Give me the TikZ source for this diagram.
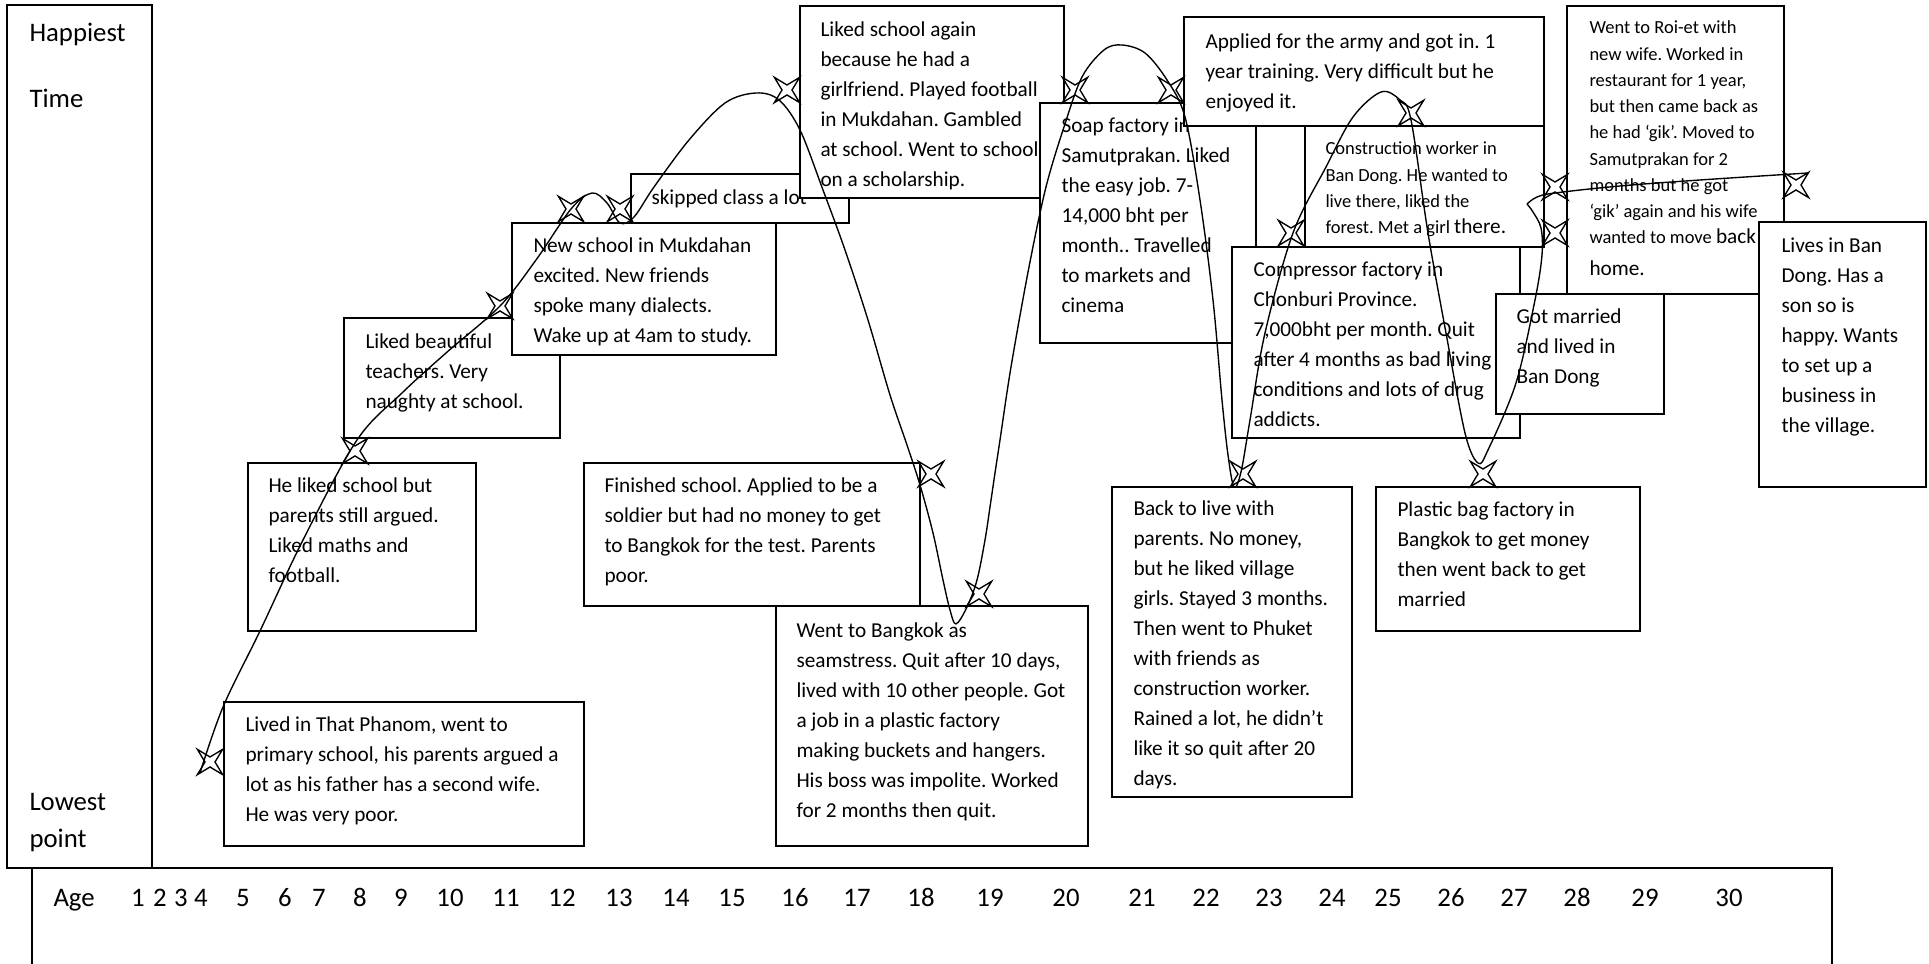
\documentclass[tikz,border=0pt]{standalone}
\usepackage{fontspec}
\setmainfont{Carlito}
\usetikzlibrary{fit,shapes.geometric}

% multi-line text block whose baseline is the first line
\newcommand\ml[1]{\begin{tabular}[t]{@{}l@{}}#1\end{tabular}}
\newcommand\bigw[1]{{\fontsize{8.5}{12}\selectfont #1}}
\frenchspacing

\tikzset{
  evbox/.style={draw, fill=white, line width=0.65pt, inner sep=0pt},
  btxt/.style={inner sep=0pt, anchor=base west, font=\fontsize{8.5}{12}\selectfont},
  stxt/.style={inner sep=0pt, anchor=base west, font=\fontsize{7.4}{10.5}\selectfont},
  axlab/.style={inner sep=0pt, anchor=base west, font=\fontsize{10.7}{13}\selectfont},
  agenum/.style={inner sep=0pt, anchor=base, font=\fontsize{10.7}{13}\selectfont},
  mstar/.style={star, star points=4, star point ratio=0.28, draw, fill=white,
    line width=0.55pt, inner sep=0pt, minimum size=4pt},
  lifeline/.style={line width=0.55pt, line join=round}
}

\begin{document}
\begin{tikzpicture}[x=0.4pt, y=-0.4pt]
\useasboundingbox (0,0) rectangle (1929,964);

% scale frame: happiness column and age strip
\node[evbox, fit={(7,5) (152,868)}] (scale) {};
\node[axlab] (happiest) at (29,42) {Happiest};
\node[axlab] (time) at (29,108) {Time};
\node[axlab] (lowest) at (29,811) {Lowest};
\node[axlab] (point) at (29,848) {point};
\coordinate (ageTL) at (32,868);
\coordinate (ageTR) at (1832,868);
\draw[line width=0.65pt] (32,990) -- (ageTL) -- (ageTR) -- (1832,990);
\node[axlab] (age) at (53,907) {Age};
\foreach \n/\x in {1/138,2/160,3/181,4/201,5/243,6/285,7/319,8/360,9/401,10/450,
  11/506,12/562,13/619,14/676,15/732,16/795,17/857,18/921,19/990,20/1066,
  21/1142,22/1206,23/1269,24/1332,25/1388,26/1451,27/1514,28/1577,29/1645,30/1729}
  \node[agenum] (age\n) at (\x,907) {\n};

% life events
\node[evbox, fit={(344,318) (560,438)}] (bC) {};
\node[btxt] (tC) at (365,349) {\ml{Liked beautiful\\teachers. Very\\naughty at school.}};

\node[evbox, fit={(512,223) (776,355)}] (bD) {};
\node[btxt] (tD) at (533,253) {\ml{New school in Mukdahan\\excited. New friends\\spoke many dialects.\\Wake up at 4am to study.}};

\node[evbox, fit={(631,174) (849,223)}] (bE) {};
\node[btxt] (tE) at (651,205) {skipped class a lot};

\node[evbox, fit={(800,6) (1064,198)}] (bF) {};
\node[btxt] (tF) at (820,37) {\ml{Liked school again\\because he had a\\girlfriend. Played football\\in Mukdahan. Gambled\\at school. Went to school\\on a scholarship.}};

\node[evbox, fit={(224,702) (584,846)}] (bA) {};
\node[btxt] (tA) at (245,732) {\ml{Lived in That Phanom, went to\\primary school, his parents argued a\\lot as his father has a second wife.\\He was very poor.}};

\node[evbox, fit={(248,463) (476,631)}] (bB) {};
\node[btxt] (tB) at (268,493) {\ml{He liked school but\\parents still argued.\\Liked maths and\\football.}};

\node[evbox, fit={(584,463) (920,606)}] (bG) {};
\node[btxt] (tG) at (604,493) {\ml{Finished school. Applied to be a\\soldier but had no money to get\\to Bangkok for the test. Parents\\poor.}};

\node[evbox, fit={(776,606) (1088,846)}] (bH) {};
\node[btxt] (tH) at (796,638) {\ml{Went to Bangkok as\\seamstress. Quit after 10 days,\\lived with 10 other people. Got\\a job in a plastic factory\\making buckets and hangers.\\His boss was impolite. Worked\\for 2 months then quit.}};

\node[evbox, fit={(1040,103) (1256,343)}] (bI) {};
\node[btxt] (tI) at (1061,133) {\ml{Soap factory in\\Samutprakan. Liked\\the easy job. 7-\\14,000 bht per\\month.. Travelled\\to markets and\\cinema}};

\node[evbox, fit={(1184,17) (1544,126)}] (bJ) {};
\node[btxt] (tJ) at (1205,49) {\ml{Applied for the army and got in. 1\\year training. Very difficult but he\\enjoyed it.}};

\node[evbox, fit={(1305,126) (1544,247)}] (bK) {};
\node[stxt] (tK) at (1325,155) {\ml{Construction worker in\\Ban Dong. He wanted to\\live there, liked the\\forest. Met a girl \bigw{there.}}};

\node[evbox, fit={(1232,247) (1520,438)}] (bL) {};
\node[btxt] (tL) at (1253,277) {\ml{Compressor factory in\\Chonburi Province.\\7,000bht per month. Quit\\after 4 months as bad living\\conditions and lots of drug\\addicts.}};

\node[evbox, fit={(1112,487) (1352,797)}] (bM) {};
\node[btxt] (tM) at (1133,516) {\ml{Back to live with\\parents. No money,\\but he liked village\\girls. Stayed 3 months.\\Then went to Phuket\\with friends as\\construction worker.\\Rained a lot, he didn’t\\like it so quit after 20\\days.}};

\node[evbox, fit={(1376,487) (1640,631)}] (bN) {};
\node[btxt] (tN) at (1397,517) {\ml{Plastic bag factory in\\Bangkok to get money\\then went back to get\\married}};

\node[evbox, fit={(1567,6) (1784,294)}] (bO) {};
\node[stxt] (tO) at (1589,34) {\ml{Went to Roi-et with\\new wife. Worked in\\restaurant for 1 year,\\but then came back as\\he had ‘gik’. Moved to\\Samutprakan for 2\\months but he got\\‘gik’ again and his wife\\wanted to move \bigw{back}\\[2pt]\bigw{home.}}};

\node[evbox, fit={(1496,294) (1664,414)}] (bP) {};
\node[btxt] (tP) at (1516,324) {\ml{Got married\\and lived in\\Ban Dong}};

\node[evbox, fit={(1759,222) (1926,487)}] (bQ) {};
\node[btxt] (tQ) at (1781,253) {\ml{Lives in Ban\\Dong. Has a\\son so is\\happy. Wants\\to set up a\\business in\\the village.}};

% star markers
\foreach \i/\x/\y in {1/210/762, 2/355/451, 3/500/306, 4/571/209, 5/620/209,
  6/787/90, 7/931/474, 8/979/594, 9/1075/90, 10/1171/90, 11/1243/474,
  12/1291/233, 13/1411/113, 14/1483/474, 15/1555/187, 16/1555/233, 17/1796/185}
  \node[mstar] (s\i) at (\x,\y) {};

% happiness line
\draw[lifeline] plot[smooth, tension=0.55] coordinates {
  (200,773) (223,707) (260,631) (303,540) (357,440) (402,393) (446,353)
  (500,306) (536,260) (571,209) (592,193) (607,203) (620,223) (634,217)
  (654,187) (689,140) (725,103) (756,93) (779,100) (800,130) (823,190)
  (845,250) (868,320) (890,395) (907,445) (920,485) (933,533) (943,580)
  (950,610) (956,624) (967,607) (977,580) (985,540) (990,507) (995,473)
  (1000,440) (1011,367) (1029,267) (1046,187) (1064,127) (1082,77)
  (1104,50) (1122,45) (1145,53) (1167,80) (1185,117) (1200,200) (1213,300)
  (1222,400) (1228,455) (1234,487) (1241,472) (1250,420) (1265,333)
  (1293,233) (1326,167) (1353,117) (1381,92) (1400,100) (1411,120)
  (1428,233) (1446,333) (1465,433) (1478,463) (1488,450) (1516,383)
  (1535,300) (1542,255) (1541,228) (1533,212) (1527,204)}
  -- plot[smooth, tension=0.6] coordinates {
  (1527,204) (1537,197) (1555,193) (1620,186) (1700,180) (1808,173)};
\end{tikzpicture}
\end{document}
